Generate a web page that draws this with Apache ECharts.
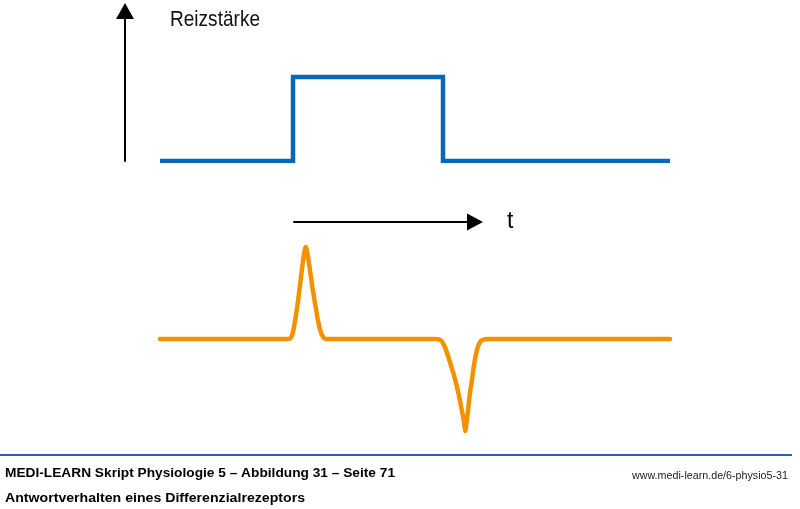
<!DOCTYPE html>
<html>
<head>
<meta charset="utf-8">
<script src="https://cdn.jsdelivr.net/npm/echarts@6/dist/echarts.min.js"></script>
<style>
html,body{margin:0;padding:0;background:#fff;}
#chart{width:800px;height:509px;}
</style>
</head>
<body>
<div id="chart"></div>
<script>
// Stimulus (Reizstärke) – step function, time in arbitrary units
var stimulusTime  = [0, 133, 133, 283, 283, 510];
var stimulusValue = [0, 0,   1,   1,   0,   0];

// Response of a differential receptor
var responseTime  = [0, 128, 130, 131, 132, 133, 134, 135, 136, 137, 138, 139, 140, 141, 142, 143, 144, 145, 145.7,
                     146.5, 147.5, 148.5, 149.5, 150.5, 151.5, 152.5, 153.5, 154.5, 155.5, 156.5, 157.5, 158.5, 159.5,
                     160.5, 161.5, 162.5, 163.5, 165, 167,
                     276, 279, 281, 283, 285, 287, 289, 291, 293, 295, 297, 299, 301, 302.5, 304, 305.3,
                     306.5, 307.5, 308.5, 309.5, 310.5, 312, 313.3, 314.5, 316, 317.5, 319, 321, 323.5, 327, 510];
var responseValue = [0, 0, 0.005, 0.016, 0.037, 0.074, 0.128, 0.19, 0.255, 0.33, 0.40, 0.49, 0.57, 0.66, 0.745, 0.83, 0.90, 0.96, 0.98,
                     0.96, 0.90, 0.84, 0.77, 0.69, 0.62, 0.54, 0.48, 0.41, 0.35, 0.29, 0.22, 0.17, 0.12,
                     0.085, 0.053, 0.032, 0.016, 0.004, 0,
                     0, -0.005, -0.016, -0.043, -0.09, -0.149, -0.213, -0.282, -0.351, -0.426, -0.511, -0.606, -0.713, -0.798, -0.883, -0.979,
                     -0.894, -0.809, -0.713, -0.617, -0.532, -0.436, -0.33, -0.245, -0.16, -0.096, -0.053, -0.021, -0.006, 0, 0];

var yAxisLabel = 'Reizstärke';
var xAxisLabel = 't';
var footerTitle = 'MEDI-LEARN Skript Physiologie 5 – Abbildung 31 – Seite 71';
var footerSubtitle = 'Antwortverhalten eines Differenzialrezeptors';
var footerUrl = 'www.medi-learn.de/6-physio5-31';

function pairs(xs, ys){ return xs.map(function(x,i){ return [x, ys[i]]; }); }

var FONT = "'Liberation Sans', Arial, sans-serif";
var ctx = document.createElement('canvas').getContext('2d');
function fitScale(text, font, target){ ctx.font = font; return target / ctx.measureText(text).width; }

var fYLabel = "21.5px " + FONT;
var fTitle = "bold 13.5px " + FONT;
var fUrl = "11.6px " + FONT;

var chart = echarts.init(document.getElementById('chart'), null, {renderer:'canvas'});
var hidden = {show:false};
chart.setOption({
  animation:false,
  backgroundColor:'#ffffff',
  grid:[
    {left:160, width:510, top:11, height:150},
    {left:160, width:510, top:245, height:188},
    {left:294, width:181, top:221, height:1}
  ],
  xAxis:[
    {gridIndex:0, type:'value', min:0, max:510, show:false},
    {gridIndex:1, type:'value', min:0, max:510, show:false},
    {gridIndex:2, type:'value', min:0, max:1,
      axisLine:{show:true, onZero:false, symbol:['none','triangle'], symbolSize:[17,16], lineStyle:{color:'#000', width:2}},
      axisTick:hidden, axisLabel:hidden, splitLine:hidden,
      name:xAxisLabel, nameLocation:'end', nameGap:32,
      nameTextStyle:{fontFamily:FONT, fontSize:23, color:'#000', verticalAlign:'middle', padding:[10,0,0,0]}
    }
  ],
  yAxis:[
    {gridIndex:0, type:'value', min:0, max:1.786, offset:35,
      axisLine:{show:true, onZero:false, symbol:['none','triangle'], symbolSize:[18,16], lineStyle:{color:'#000', width:2}},
      axisTick:hidden, axisLabel:hidden, splitLine:hidden
    },
    {gridIndex:1, type:'value', min:-1, max:1, show:false},
    {gridIndex:2, type:'value', min:0, max:1, show:false}
  ],
  series:[
    {type:'line', xAxisIndex:0, yAxisIndex:0, data:pairs(stimulusTime, stimulusValue),
      symbol:'none', lineStyle:{color:'#0b66b4', width:4.5, join:'miter', cap:'butt'}},
    {type:'line', xAxisIndex:1, yAxisIndex:1, data:pairs(responseTime, responseValue),
      symbol:'none', smooth:0.15,
      lineStyle:{color:'#f39200', width:4.5, join:'round', cap:'round'}}
  ],
  graphic:[
    {type:'text', x:170, y:20, scaleX:fitScale(yAxisLabel, fYLabel, 90),
      style:{text:yAxisLabel, font:fYLabel, fill:'#111', align:'left', verticalAlign:'middle'}},
    {type:'rect', shape:{x:0, y:454, width:792, height:2}, style:{fill:'#2c5fa6'}},
    {type:'text', x:5, y:473, scaleX:fitScale(footerTitle, fTitle, 390),
      style:{text:footerTitle, font:fTitle, fill:'#000', align:'left', verticalAlign:'middle'}},
    {type:'text', x:5, y:498.5, scaleX:fitScale(footerSubtitle, fTitle, 300),
      style:{text:footerSubtitle, font:fTitle, fill:'#000', align:'left', verticalAlign:'middle'}},
    {type:'text', x:788, y:476, scaleX:fitScale(footerUrl, fUrl, 156),
      style:{text:footerUrl, font:fUrl, fill:'#222', align:'right', verticalAlign:'middle'}}
  ]
});
</script>
</body>
</html>
